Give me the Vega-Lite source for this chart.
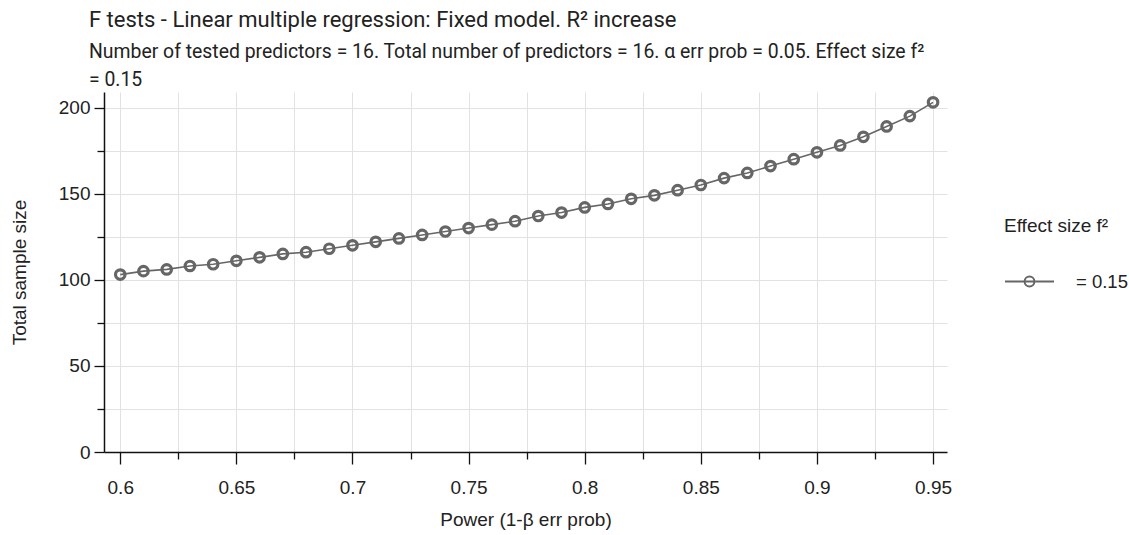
{
  "$schema": "https://vega.github.io/schema/vega-lite/v6.json",
  "width": 843,
  "height": 360,
  "padding": {"left": 10, "top": 8, "right": 2, "bottom": 2},
  "title": {
    "text": "F tests - Linear multiple regression: Fixed model. R² increase",
    "subtitle": ["Number of tested predictors = 16. Total number of predictors = 16. α err prob = 0.05. Effect size f²", "= 0.15"],
    "anchor": "start",
    "frame": "group",
    "dx": -15,
    "font": "Roboto",
    "fontSize": 22,
    "fontWeight": "normal",
    "color": "#222",
    "subtitleFont": "Roboto",
    "subtitleFontSize": 19.4,
    "subtitleColor": "#222",
    "subtitlePadding": 11,
    "subtitleLineHeight": 28,
    "offset": 1
  },
  "data": {
    "values": [
      {"power": 0.60, "n": 103, "effect": "= 0.15"},
      {"power": 0.61, "n": 105, "effect": "= 0.15"},
      {"power": 0.62, "n": 106, "effect": "= 0.15"},
      {"power": 0.63, "n": 108, "effect": "= 0.15"},
      {"power": 0.64, "n": 109, "effect": "= 0.15"},
      {"power": 0.65, "n": 111, "effect": "= 0.15"},
      {"power": 0.66, "n": 113, "effect": "= 0.15"},
      {"power": 0.67, "n": 115, "effect": "= 0.15"},
      {"power": 0.68, "n": 116, "effect": "= 0.15"},
      {"power": 0.69, "n": 118, "effect": "= 0.15"},
      {"power": 0.70, "n": 120, "effect": "= 0.15"},
      {"power": 0.71, "n": 122, "effect": "= 0.15"},
      {"power": 0.72, "n": 124, "effect": "= 0.15"},
      {"power": 0.73, "n": 126, "effect": "= 0.15"},
      {"power": 0.74, "n": 128, "effect": "= 0.15"},
      {"power": 0.75, "n": 130, "effect": "= 0.15"},
      {"power": 0.76, "n": 132, "effect": "= 0.15"},
      {"power": 0.77, "n": 134, "effect": "= 0.15"},
      {"power": 0.78, "n": 137, "effect": "= 0.15"},
      {"power": 0.79, "n": 139, "effect": "= 0.15"},
      {"power": 0.80, "n": 142, "effect": "= 0.15"},
      {"power": 0.81, "n": 144, "effect": "= 0.15"},
      {"power": 0.82, "n": 147, "effect": "= 0.15"},
      {"power": 0.83, "n": 149, "effect": "= 0.15"},
      {"power": 0.84, "n": 152, "effect": "= 0.15"},
      {"power": 0.85, "n": 155, "effect": "= 0.15"},
      {"power": 0.86, "n": 159, "effect": "= 0.15"},
      {"power": 0.87, "n": 162, "effect": "= 0.15"},
      {"power": 0.88, "n": 166, "effect": "= 0.15"},
      {"power": 0.89, "n": 170, "effect": "= 0.15"},
      {"power": 0.90, "n": 174, "effect": "= 0.15"},
      {"power": 0.91, "n": 178, "effect": "= 0.15"},
      {"power": 0.92, "n": 183, "effect": "= 0.15"},
      {"power": 0.93, "n": 189, "effect": "= 0.15"},
      {"power": 0.94, "n": 195, "effect": "= 0.15"},
      {"power": 0.95, "n": 203, "effect": "= 0.15"}
    ]
  },
  "encoding": {
    "x": {
      "field": "power",
      "type": "quantitative",
      "title": "Power (1-β err prob)",
      "scale": {"domain": [0.593, 0.956], "nice": false, "zero": false},
      "axis": {
        "values": [0.6, 0.625, 0.65, 0.675, 0.7, 0.725, 0.75, 0.775, 0.8, 0.825, 0.85, 0.875, 0.9, 0.925, 0.95],
        "labelExpr": "round(datum.value * 40) % 2 == 0 ? datum.label : ''",
        "format": "~g",
        "tickSize": {"condition": {"test": "round(datum.value * 40) % 2 == 0", "value": 12}, "value": 7},
        "labelPadding": 14,
        "titlePadding": 13
      }
    },
    "y": {
      "field": "n",
      "type": "quantitative",
      "title": "Total sample size",
      "scale": {"domain": [0, 209], "nice": false},
      "axis": {
        "values": [0, 25, 50, 75, 100, 125, 150, 175, 200],
        "labelExpr": "datum.value % 50 == 0 ? datum.label : ''",
        "tickSize": {"condition": {"test": "datum.value % 50 == 0", "value": 10}, "value": 7},
        "labelPadding": 4,
        "titlePadding": 29
      }
    },
    "color": {
      "field": "effect",
      "type": "nominal",
      "scale": {"range": ["#666666"]},
      "legend": {
        "title": "Effect size f²",
        "orient": "none",
        "legendX": 900,
        "legendY": 125,
        "symbolType": "M-1,0H1M-0.2,0A0.2,0.2 0 1,0 0.2,0A0.2,0.2 0 1,0 -0.2,0",
        "symbolSize": 2401,
        "symbolStrokeWidth": 2,
        "symbolFillColor": "transparent",
        "symbolStrokeColor": "#666666",
        "titleFont": "Liberation Sans",
        "titleFontSize": 19,
        "titleFontWeight": "normal",
        "titleColor": "#222",
        "titlePadding": 20,
        "labelFont": "Liberation Sans",
        "labelFontSize": 18.5,
        "labelColor": "#222",
        "labelOffset": 21
      }
    }
  },
  "layer": [
    {"mark": {"type": "line", "strokeWidth": 1.6, "color": "#666666"}},
    {"mark": {"type": "point", "filled": false, "size": 90, "strokeWidth": 3.2, "color": "#555555", "opacity": 1}}
  ],
  "config": {
    "view": {"stroke": null},
    "axis": {
      "labelFont": "Liberation Sans",
      "labelFontSize": 19,
      "labelColor": "#222",
      "titleFont": "Liberation Sans",
      "titleFontSize": 19,
      "titleFontWeight": "normal",
      "titleColor": "#222",
      "domainColor": "#111",
      "domainWidth": 1.5,
      "tickColor": "#111",
      "tickWidth": 1.3,
      "gridColor": "#e2e2e2",
      "gridWidth": 1
    }
  }
}
